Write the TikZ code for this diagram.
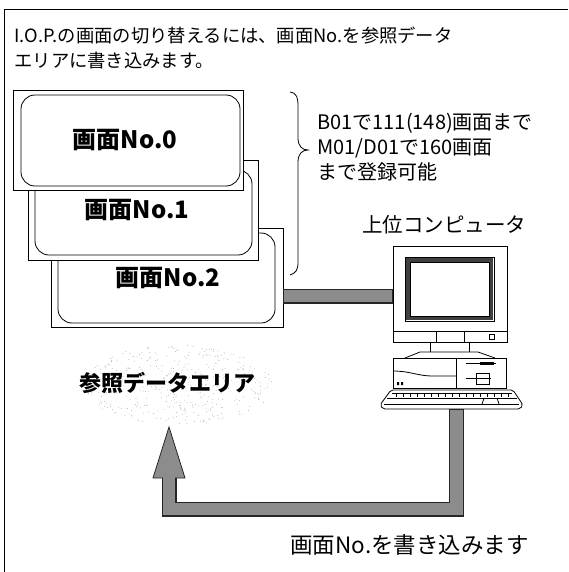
\documentclass[tikz,border=0pt]{standalone}
\usepackage{fontspec}
\newfontfamily\jp{Noto Sans CJK JP}
\usetikzlibrary{calc}

\tikzset{
  scr/.style={draw,fill=white,line width=0.7pt},
  pane/.style={draw,fill=white,line width=0.8pt,rounded corners=14pt},
  bandedge/.style={line width=15pt,black!85},
  bandfill/.style={line width=12.6pt,black!45},
  txt/.style={anchor=west,inner sep=0pt},
  lab/.style={inner sep=0pt,font=\jp\fontsize{24}{24}\selectfont\bfseries}
}
\newcommand{\fs}[1]{\fontsize{#1}{#1}\selectfont}

\begin{document}
\begin{tikzpicture}[x=1pt,y=-1pt,font=\jp,line width=0.8pt]
\useasboundingbox (0,0) rectangle (568,572);
\draw (4,572) -- (4,9) -- (568,9);

\node[txt] (title1) at (14,35) {\fs{18.3}I.O.P.の画面の切り替えるには、画面No.を参照データ};
\node[txt] (title2) at (14,61) {\fs{18.3}エリアに書き込みます。};

% three screens, back to front
\node[scr,minimum width=232,minimum height=99] (scr2) at (167,277.5) {};
\node[pane,minimum width=217,minimum height=90] (pane2) at (166.5,278) {};
\node[lab] (lab2) at (168,278) {画面No.2};
\node[scr,minimum width=230,minimum height=100] (scr1) at (143,210) {};
\node[pane,minimum width=217,minimum height=85] (pane1) at (143.5,212.5) {};
\node[lab] (lab1) at (137,210) {画面No.1};
\node[scr,minimum width=230,minimum height=100] (scr0) at (128,140) {};
\node[pane,minimum width=219,minimum height=91] (pane0) at (130.5,140.5) {};
\node[lab] (lab0) at (125,140) {画面No.0};

\draw (290,92) .. controls (297,93) and (298,98) .. (298,106) -- (298,138)
  .. controls (298,146) and (302,150) .. (308,150)
  .. controls (302,150) and (298,154) .. (298,162) -- (298,262)
  .. controls (298,270) and (296,273) .. (290,275);
\node[txt] (cap1) at (317,123) {\fs{20}B01で111(148)画面まで};
\node[txt] (cap2) at (317,148) {\fs{20}M01/D01で160画面};
\node[txt] (cap3) at (317,172) {\fs{20}まで登録可能};

\node[txt] (host) at (362,225) {\fs{20.5}上位コンピュータ};

% monitor
\node[scr,minimum width=114,minimum height=96] (mon) at (450,294) {};
\draw (393,331) -- (507,331) (436,331) -- (436,342) (464,331) -- (464,342);
\draw (489,334) rectangle (494,339);
\draw[line width=4pt,black!75] (408,260) rectangle (491,318);
\draw (405,257) rectangle (494,321) (410,262) rectangle (489,316);
\draw (430,342) -- (430,352) (469,342) -- (469,352);
% system unit
\draw[fill=white] (405,358) -- (420,352) -- (478,352) -- (495,358);
\draw[fill=white] (393,358) rectangle (506,388);
\draw (456,358) -- (456,388);
\draw (466,363) -- (496,363);
\fill (480,361.5) rectangle (494,365);
\draw (466,378) -- (491,378) (476,373) rectangle (489,384);
\draw (393,371) .. controls (410,371) and (418,376) .. (432,376) -- (456,376);
\fill (397,382) rectangle (399,385) (401,382) rectangle (403,385);
% keyboard
\draw[fill=white,rounded corners=2pt] (391,390) -- (513,390) -- (523,405) -- (520,409)
  -- (383,409) -- (380,405) -- cycle;
\draw (392,393) -- (512,393) (387,398) -- (517,398) (384,404) -- (519,404);
\foreach \x in {396,403,...,508}
  \draw (\x,393) -- (\x,397);
\draw (484,398) -- (482,404) (497,398) -- (499,404);
\coordinate (kbd) at (456.5,409);

% reference data area
\begin{scope}
\pgfmathsetseed{17}
\foreach \i in {1,...,420}{
  \pgfmathsetmacro\ang{rnd*360}
  \pgfmathsetmacro\rad{sqrt(rnd)}
  \fill[black!30] ({178+\rad*95*cos(\ang)},{385+\rad*40*sin(\ang)}) circle (0.5pt);
}
\end{scope}
\node (area) at (167,383) {\fs{22}\bfseries 参照データエリア};

% connection to host and write arrow
\draw[bandedge] (scr2.east |- 0,296) -- (mon.west |- 0,296);
\draw[bandfill] ($(scr2.east |- 0,296)+(0.5,0)$) -- ($(mon.west |- 0,296)+(-0.5,0)$);
\coordinate (tip) at (169,427);
\coordinate (head) at (169,478);
\filldraw[fill=black!45,draw=black!85] ($(head)+(-16,0)$) -- (tip) -- ($(head)+(16,0)$) -- cycle;
\draw[bandedge,line join=miter] (kbd) |- ($(head)+(0,31)$) -- ($(head)+(0,-0.5)$);
\draw[bandfill,line join=miter] ($(kbd)+(0,0.8)$) |- ($(head)+(0,31)$) -- ($(head)+(0,-1)$);

\node[txt] (write) at (290,545) {\fs{22.5}画面No.を書き込みます};
\end{tikzpicture}
\end{document}
